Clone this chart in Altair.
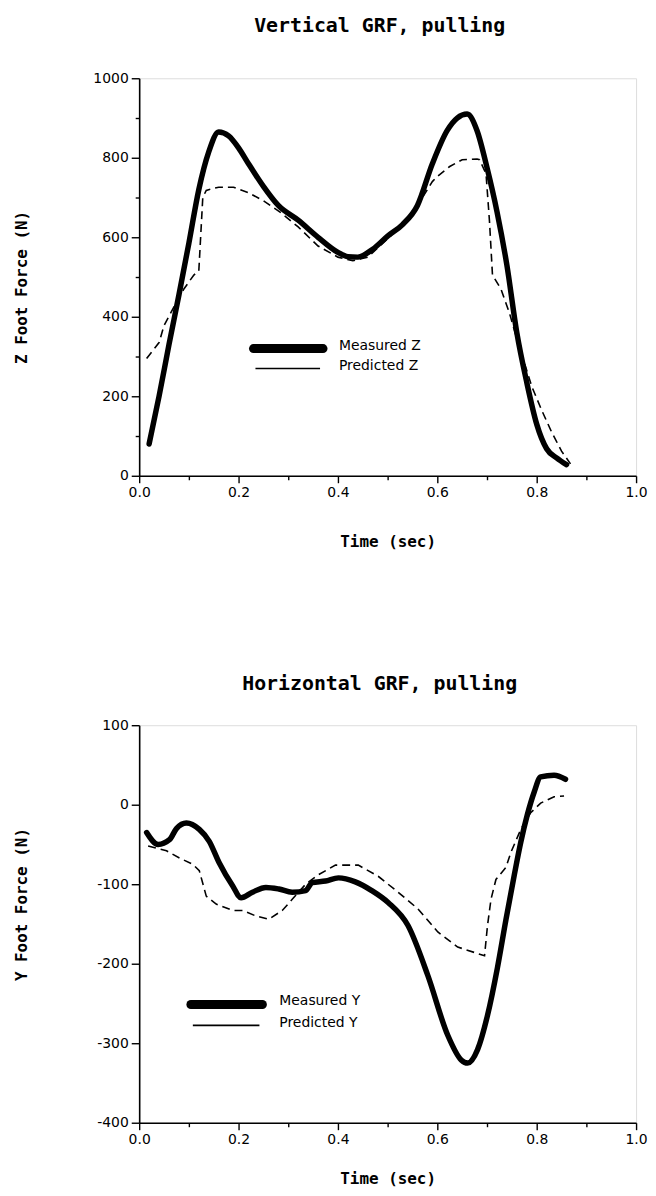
import altair as alt
import pandas as pd

# ---------------- data ----------------
# Vertical GRF
z_meas_t = [0.02, 0.04, 0.06, 0.08, 0.10, 0.12, 0.14, 0.16, 0.18, 0.20, 0.22, 0.25,
            0.28, 0.32, 0.36, 0.40, 0.42, 0.44, 0.47, 0.50, 0.53, 0.56, 0.59, 0.62,
            0.64, 0.66, 0.68, 0.70, 0.72, 0.74, 0.76, 0.78, 0.80, 0.82, 0.84, 0.86]
z_meas_v = [80, 200, 330, 455, 585, 720, 815, 865, 855, 825, 785, 728,
            680, 643, 600, 562, 551, 550, 570, 603, 632, 680, 785, 869,
            900, 910, 868, 775, 665, 530, 360, 235, 130, 68, 45, 28]
z_pred_t = [0.015, 0.04, 0.05, 0.07, 0.09, 0.11, 0.12, 0.128, 0.135, 0.16, 0.19, 0.22,
            0.25, 0.285, 0.32, 0.36, 0.40, 0.43, 0.46, 0.50, 0.53, 0.56, 0.59, 0.60,
            0.625, 0.65, 0.68, 0.685, 0.698, 0.705, 0.711, 0.728, 0.745, 0.76, 0.775,
            0.79, 0.81, 0.83, 0.85, 0.868]
z_pred_v = [295, 335, 378, 425, 470, 505, 515, 700, 718, 726, 726, 712,
            692, 662, 626, 578, 550, 541, 550, 596, 632, 680, 740, 753,
            778, 795, 797, 795, 760, 640, 505, 470, 410, 345, 285,
            225, 165, 110, 62, 30]

# Horizontal GRF
y_meas_t = [0.015, 0.038, 0.061, 0.075, 0.095, 0.121, 0.141, 0.161, 0.188, 0.205,
            0.228, 0.255, 0.281, 0.308, 0.335, 0.348, 0.375, 0.401, 0.435, 0.468,
            0.501, 0.541, 0.581, 0.621, 0.648, 0.661, 0.681, 0.701, 0.721, 0.738,
            0.755, 0.768, 0.781, 0.795, 0.808, 0.835, 0.858]
y_meas_v = [-35, -50, -44, -30, -23, -31, -46, -73, -102, -117,
            -110, -104, -106, -110, -108, -98, -96, -92, -97, -108,
            -123, -152, -215, -290, -321, -325, -308, -265, -205, -145,
            -88, -47, -13, 16, 35, 37, 32]
y_pred_t = [0.018, 0.055, 0.081, 0.108, 0.121, 0.135, 0.155, 0.188, 0.208, 0.235,
            0.261, 0.288, 0.308, 0.335, 0.361, 0.395, 0.441, 0.481, 0.521, 0.561,
            0.601, 0.641, 0.695, 0.701, 0.708, 0.718, 0.738, 0.748, 0.768, 0.788,
            0.808, 0.835, 0.855]
y_pred_v = [-52, -58, -67, -75, -83, -115, -125, -133, -133, -140,
            -144, -133, -119, -100, -88, -76, -76, -90, -110, -131,
            -160, -179, -190, -152, -119, -94, -79, -60, -31, -10,
            2, 10, 11]

x_ticks = [0.0, 0.1, 0.2, 0.3, 0.4, 0.5, 0.6, 0.7, 0.8, 0.9, 1.0]
z_ticks = [0, 100, 200, 300, 400, 500, 600, 700, 800, 900, 1000]
y_ticks = [-400, -300, -200, -100, 0, 100]

z_legend = ["Measured Z", "Predicted Z"]
y_legend = ["Measured Y", "Predicted Y"]

# ---------------- styling helpers ----------------
LABEL_FONT = "DejaVu Sans"
TITLE_FONT = "DejaVu Sans Mono"
W, H = 500, 400


def x_axis(title_y):
    return alt.Axis(
        values=x_ticks,
        labelExpr="round(datum.value*10) % 2 == 0 ? format(datum.value, '.1f') : ''",
        tickSize={"condition": {"test": "round(datum.value*10) % 2 == 0", "value": 7}, "value": 4},
        labelFlush=False, labelOverlap=False, grid=False,
        domainColor="black", domainWidth=1.6, tickColor="black", tickWidth=1.4,
        labelFont=LABEL_FONT, labelFontSize=14, labelColor="black", labelPadding=3,
        title="Time (sec)", titleFont=TITLE_FONT, titleFontSize=16, titleFontWeight="bold",
        titleColor="black", titleX=W / 2, titleY=title_y, titleBaseline="middle",
        titleAlign="center",
    )


def y_axis(values, title, test, title_y):
    return alt.Axis(
        values=values,
        labelExpr="(" + test + ") ? ('' + datum.value) : ''",
        tickSize={"condition": {"test": test, "value": 8}, "value": 4},
        labelOverlap=False, grid=False,
        domainColor="black", domainWidth=1.6, tickColor="black", tickWidth=1.4,
        labelFont=LABEL_FONT, labelFontSize=14, labelColor="black", labelPadding=3,
        title=title, titleFont=TITLE_FONT, titleFontSize=16, titleFontWeight="bold",
        titleColor="black", titleAngle=270, titleX=-118, titleY=title_y,
        titleBaseline="middle", titleAlign="center",
    )


def panel(title, title_offset, mt, mv, pt, pv, ydomain, yvals, ytest, ytitle,
          ytitle_y, xtitle_y, legend_labels, leg):
    dm = pd.DataFrame({"t": mt, "v": mv})
    dp = pd.DataFrame({"t": pt, "v": pv})
    xs = alt.X("t:Q", scale=alt.Scale(domain=[0, 1], nice=False), axis=x_axis(xtitle_y))
    ys = alt.Y("v:Q", scale=alt.Scale(domain=ydomain, nice=False),
               axis=y_axis(yvals, ytitle, ytest, ytitle_y))
    meas = alt.Chart(dm).mark_line(color="black", strokeWidth=5.5, strokeCap="round",
                                   strokeJoin="round", interpolate="monotone").encode(x=xs, y=ys)
    pred = alt.Chart(dp).mark_line(color="black", strokeWidth=1.6,
                                   strokeDash=[8, 5]).encode(x=xs, y=ys)
    lx0, lx1, lxt, ly0, ly1 = leg
    one = pd.DataFrame({"label": [legend_labels[0]]})
    two = pd.DataFrame({"label": [legend_labels[1]]})
    r1 = alt.Chart(one).mark_rule(color="black", strokeWidth=9, strokeCap="round").encode(
        x=alt.value(lx0), x2=alt.value(lx1), y=alt.value(ly0))
    r2 = alt.Chart(two).mark_rule(color="black", strokeWidth=1.6).encode(
        x=alt.value(lx0 + 2), x2=alt.value(lx1 - 3), y=alt.value(ly1))
    t1 = alt.Chart(one).mark_text(align="left", baseline="middle", font=LABEL_FONT,
                                  fontSize=14, color="black").encode(
        x=alt.value(lxt), y=alt.value(ly0 - 3), text="label:N")
    t2 = alt.Chart(two).mark_text(align="left", baseline="middle", font=LABEL_FONT,
                                  fontSize=14, color="black").encode(
        x=alt.value(lxt), y=alt.value(ly1 - 2), text="label:N")
    return alt.layer(pred, meas, r1, r2, t1, t2).properties(
        width=W, height=H,
        title=alt.TitleParams(title, font=TITLE_FONT, fontSize=20, fontWeight="bold",
                              color="black", anchor="middle", frame="group",
                              baseline="alphabetic", offset=title_offset, dx=-8),
    )


top = panel("Vertical GRF, pulling", 20, z_meas_t, z_meas_v, z_pred_t, z_pred_v,
            [0, 1000], z_ticks, "datum.value % 200 == 0", "Z Foot Force (N)", 210, 66,
            z_legend, (115, 185, 201, 272, 292))
bottom = panel("Horizontal GRF, pulling", 8, y_meas_t, y_meas_v, y_pred_t, y_pred_v,
               [-400, 100], y_ticks, "true", "Y Foot Force (N)", 180, 56,
               y_legend, (52, 124, 141, 281, 302))

chart = alt.vconcat(top, bottom, spacing=124).properties(
    padding={"left": 5, "top": 3, "right": 0, "bottom": 0}
).configure_view(stroke=None).configure(background="white")

chart.save("out.html", embed_options={"renderer": "svg", "actions": False})
